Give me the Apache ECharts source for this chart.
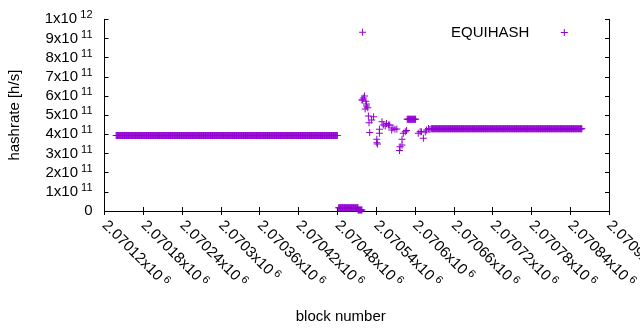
<!DOCTYPE html>
<html>
<head>
<meta charset="utf-8">
<script src="https://cdn.jsdelivr.net/npm/echarts@6/dist/echarts.min.js"></script>
<style>
  html, body { margin: 0; padding: 0; background: #fff; }
  #chart { width: 640px; height: 330px; }
</style>
</head>
<body>
<div id="chart"></div>
<script>
// flat stretches: one point per block from start to end
var runStart = [2070138, 2070482, 2070512, 2070588, 2070625];
var runEnd   = [2070480, 2070512, 2070518, 2070601, 2070858];
var runValue = [3.94e11, 1.7e10, 0.5e10, 4.78e11, 4.29e11];

// scattered points after the drop
var spikeBlocks = [2070519, 2070518, 2070519, 2070520, 2070522, 2070524, 2070525, 2070525,
  2070527, 2070523, 2070528, 2070529, 2070530, 2070533, 2070536, 2070541, 2070541, 2070542,
  2070545, 2070545, 2070549, 2070551, 2070554, 2070556, 2070559, 2070561, 2070564, 2070566,
  2070569, 2070572, 2070576, 2070577, 2070580, 2070580, 2070582, 2070585, 2070587,
  2070605, 2070608, 2070610, 2070613, 2070616, 2070618, 2070621, 2070623];
var spikeValues = [9.32e11, 5.79e11, 5.79e11, 5.89e11, 6.0e11, 5.72e11, 5.58e11, 5.48e11,
  5.39e11, 5.32e11, 4.96e11, 4.61e11, 4.10e11, 4.75e11, 4.92e11, 3.74e11, 3.56e11, 3.50e11,
  4.05e11, 4.26e11, 4.66e11, 4.49e11, 4.43e11, 4.57e11, 4.49e11, 4.49e11, 4.22e11, 4.33e11,
  4.26e11, 4.28e11, 3.15e11, 3.35e11, 3.44e11, 3.74e11, 4.05e11, 4.14e11, 4.20e11,
  4.05e11, 4.14e11, 4.14e11, 3.79e11, 4.12e11, 4.22e11, 4.31e11, 4.25e11];

var xMin = 2070120, xMax = 2070900, xStep = 60;
var yMin = 0, yMax = 1e12, yStep = 1e11;

var points = [];
for (var i = 0; i < runStart.length; i++) {
    for (var b = runStart[i]; b <= runEnd[i]; b++) {
        points.push([b, runValue[i]]);
    }
}
for (var j = 0; j < spikeBlocks.length; j++) {
    points.push([spikeBlocks[j], spikeValues[j]]);
}

var plus = 'path://M3,0H4V3H7V4H4V7H3V4H0V3H3Z';
var font = 'Liberation Sans';
// keep the label box under one tick step so no label gets dropped
var rich = {
    m: { fontSize: 15, lineHeight: 16, fontFamily: font, color: '#000' },
    s: { fontSize: 11, lineHeight: 10, fontFamily: font, color: '#000', padding: [0, 0, 8, 0] }
};

function yLabel(v) {
    if (v === 0) return '{m|0}';
    var e = Math.floor(Math.log10(v) + 1e-9);
    var m = Math.round(v / Math.pow(10, e));
    return '{m|' + m + 'x10}{s| ' + e + '}';
}
function xLabel(v) {
    return '{m|' + parseFloat((v / 1e6).toFixed(5)) + 'x10}{s| 6}';
}

var black = { lineStyle: { color: '#000', width: 1 } };
var tick = { inside: true, length: 4, lineStyle: { color: '#000' } };

var chart = echarts.init(document.getElementById('chart'));
chart.setOption({
    animation: false,
    grid: { left: 104.5, right: 31, top: 19.3, bottom: 119, outerBoundsMode: 'none', containLabel: false },
    legend: {
        data: ['EQUIHASH'],
        left: 451, top: 25, padding: 0,
        align: 'right', itemWidth: 60, itemHeight: 7,
        textStyle: { fontSize: 15, fontFamily: font, color: '#000' }
    },
    xAxis: [{
        type: 'value', min: xMin, max: xMax, interval: xStep,
        axisLine: black, axisTick: tick, splitLine: { show: false },
        axisLabel: { rotate: -45, margin: 12, formatter: xLabel, rich: rich,
                     showMinLabel: true, showMaxLabel: true, hideOverlap: false },
        name: 'block number', nameLocation: 'middle', nameGap: 98,
        nameTextStyle: { fontSize: 15, fontFamily: font, color: '#000', padding: [0, 32, 0, 0] }
    }, {
        type: 'value', position: 'top', min: xMin, max: xMax, interval: xStep,
        axisLine: black, axisTick: tick, axisLabel: { show: false }, splitLine: { show: false }
    }],
    yAxis: [{
        type: 'value', min: yMin, max: yMax, interval: yStep,
        axisLine: { show: true, lineStyle: { color: '#000', width: 1 } },
        axisTick: tick, splitLine: { show: false },
        axisLabel: { margin: 12, formatter: yLabel, rich: rich,
                     showMinLabel: true, showMaxLabel: true, hideOverlap: false },
        name: 'hashrate [h/s]', nameLocation: 'middle', nameGap: 82, nameRotate: 90,
        nameTextStyle: { fontSize: 15, fontFamily: font, color: '#000' }
    }, {
        type: 'value', position: 'right', min: yMin, max: yMax, interval: yStep,
        axisLine: { show: true, lineStyle: { color: '#000', width: 1 } },
        axisTick: tick, axisLabel: { show: false }, splitLine: { show: false }
    }],
    series: [{
        name: 'EQUIHASH',
        type: 'scatter',
        symbol: plus,
        symbolSize: 7,
        itemStyle: { color: '#9400d3', opacity: 1 },
        data: points
    }]
});
</script>
</body>
</html>
